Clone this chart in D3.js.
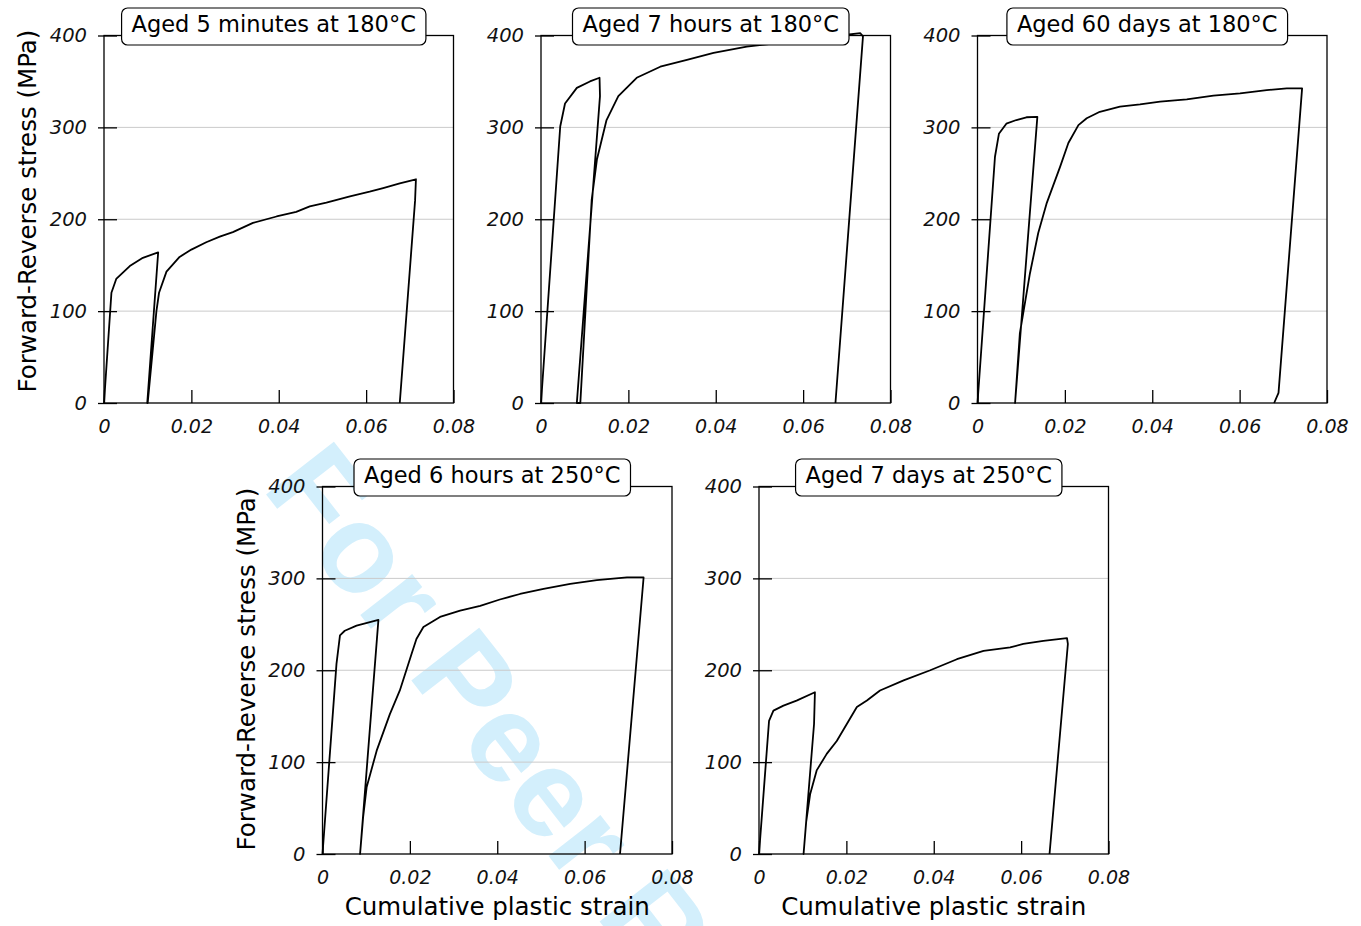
<!DOCTYPE html>
<html>
<head>
<meta charset="utf-8">
<script src="https://cdn.jsdelivr.net/npm/d3@7"></script>
<style>
  body { margin: 0; background: #fff; }
  svg { display: block; }
</style>
</head>
<body>
<div id="chart"></div>
<script>
// tick values shared by every panel
var xTicks = [0, 0.02, 0.04, 0.06, 0.08];
var yTicks = [0, 100, 200, 300, 400];

var titles = [
  "Aged 5 minutes at 180°C",
  "Aged 7 hours at 180°C",
  "Aged 60 days at 180°C",
  "Aged 6 hours at 250°C",
  "Aged 7 days at 250°C"
];

// forward loading -> unload -> reverse loading -> unload
var strain5min = [0, 0.0017, 0.0028, 0.0059, 0.0089, 0.0124, 0.0099, 0.0100, 0.0112, 0.0120, 0.0126, 0.0143, 0.0173, 0.0200, 0.0234, 0.0265, 0.0295, 0.0341, 0.0395, 0.0440, 0.0471, 0.0509, 0.0563, 0.0608, 0.0639, 0.0677, 0.0714, 0.0712, 0.0677];
var stress5min = [0, 120, 135, 149, 158, 164, 0, 0, 60, 100, 120, 143, 159, 167, 175, 181, 186, 196, 203, 208, 214, 218, 225, 230, 234, 239, 243.5, 220, 0];

var strain7h = [0, 0.0044, 0.0055, 0.0082, 0.0112, 0.0134, 0.0135, 0.0082, 0.0090, 0.0116, 0.0128, 0.0150, 0.0177, 0.0219, 0.0273, 0.0334, 0.0395, 0.0471, 0.0548, 0.0601, 0.0632, 0.0685, 0.0731, 0.0737, 0.0674];
var stress7h = [0, 301, 326, 343, 350, 354, 334, 0, 0, 221, 265, 308, 334, 354, 366, 373.5, 381, 388, 392, 393, 397, 400, 402.5, 399, 0];

var strain60d = [0, 0.0040, 0.0049, 0.0066, 0.0089, 0.0112, 0.0137, 0.0086, 0.0097, 0.0120, 0.0139, 0.0158, 0.0189, 0.0208, 0.0231, 0.0250, 0.0280, 0.0326, 0.0372, 0.0418, 0.0479, 0.0540, 0.0601, 0.0662, 0.0708, 0.0743, 0.0689, 0.0679];
var stress60d = [0, 268, 293, 304, 308, 311, 311.5, 0, 76, 141, 185, 217, 257, 283, 302.5, 310, 317, 322.5, 325, 328, 330.5, 334.5, 337, 340.5, 342.5, 342.5, 11, 0];

var strain6h = [0, 0.0032, 0.0040, 0.0051, 0.0078, 0.0128, 0.0086, 0.0093, 0.0101, 0.0124, 0.0154, 0.0177, 0.0204, 0.0215, 0.0231, 0.0269, 0.0315, 0.0361, 0.0406, 0.0452, 0.0506, 0.0567, 0.0628, 0.0697, 0.0735, 0.0681];
var stress6h = [0, 207, 238, 243, 248.6, 254.8, 0, 40, 72.6, 112.5, 152, 178, 218, 234, 247, 258, 265, 270, 277, 283, 288.6, 294, 298, 301, 301, 0];

var strain7d = [0, 0.0023, 0.0033, 0.0056, 0.0086, 0.0128, 0.0126, 0.0102, 0.0108, 0.0117, 0.0132, 0.0155, 0.0178, 0.0201, 0.0224, 0.0247, 0.0277, 0.0331, 0.0392, 0.0453, 0.0514, 0.0575, 0.0605, 0.0651, 0.0705, 0.0707, 0.0665];
var stress7d = [0, 145, 156, 161.5, 167, 176, 141.5, 0, 35, 65, 91, 109, 123, 141.5, 160, 167, 178, 189, 200, 212, 221, 225, 228.6, 232, 235, 228.6, 0];

var panels = [
  {left: 104, top: 35.5, strain: strain5min, stress: stress5min, yLabel: true, xLabel: false, yLabelCy: 211},
  {left: 541, top: 35.5, strain: strain7h, stress: stress7h, yLabel: false, xLabel: false},
  {left: 977.5, top: 35.5, strain: strain60d, stress: stress60d, yLabel: false, xLabel: false},
  {left: 322.5, top: 486.5, strain: strain6h, stress: stress6h, yLabel: true, xLabel: true, yLabelCy: 669},
  {left: 759, top: 486.5, strain: strain7d, stress: stress7d, yLabel: false, xLabel: true}
];

var W = 1361, H = 926;
var width = 349.5, height = 367.5;

var svg = d3.select("#chart")
  .append("svg")
  .attr("width", W)
  .attr("height", H);

// watermark behind everything
svg.append("text")
  .attr("transform", "translate(261,488) rotate(52)")
  .attr("font-family", "Liberation Sans, Arial, sans-serif")
  .attr("font-weight", "bold")
  .attr("font-size", 125)
  .attr("fill", "#d3effc")
  .text("For Peer Review");

var x = d3.scaleLinear().domain([0, 0.08]).range([0, width]);
var y = d3.scaleLinear().domain([0, 400]).range([height, 0]);

var fmt = function(d) { return d === 0 ? "0" : d.toFixed(2); };

var line = d3.line()
  .x(function(d) { return x(d[0]); })
  .y(function(d) { return y(d[1]); });

panels.forEach(function(p, i) {
  var g = svg.append("g")
    .attr("transform", "translate(" + p.left + "," + p.top + ")");

  // grid
  g.append("g")
    .selectAll("line")
    .data(yTicks.filter(function(d) { return d > 0 && d < 400; }))
    .enter().append("line")
    .attr("x1", 0)
    .attr("x2", width)
    .attr("y1", function(d) { return y(d); })
    .attr("y2", function(d) { return y(d); })
    .attr("stroke", "#cacaca")
    .attr("stroke-width", 1);

  // y axis
  var ya = g.append("g")
    .call(d3.axisLeft(y).tickValues(yTicks).tickSizeInner(6).tickSizeOuter(0).tickPadding(11));
  ya.select(".domain").remove();
  ya.selectAll(".tick line").attr("x1", 13).attr("stroke", "#000").attr("stroke-width", 1.3);
  ya.selectAll(".tick text")
    .attr("font-family", "DejaVu Sans, sans-serif")
    .attr("font-style", "italic")
    .attr("font-size", 19.5)
    .attr("fill", "#111");

  // x axis
  var xa = g.append("g")
    .attr("transform", "translate(0," + height + ")")
    .call(d3.axisBottom(x).tickValues(xTicks).tickFormat(fmt).tickSize(0).tickPadding(17));
  xa.select(".domain").remove();
  xa.selectAll(".tick line").attr("y2", -13).attr("stroke", "#000").attr("stroke-width", 1.3);
  xa.selectAll(".tick text")
    .attr("font-family", "DejaVu Sans, sans-serif")
    .attr("font-style", "italic")
    .attr("font-size", 19)
    .attr("fill", "#111");

  // frame
  g.append("rect")
    .attr("width", width)
    .attr("height", height)
    .attr("fill", "none")
    .attr("stroke", "#000")
    .attr("stroke-width", 1.3);

  // curve
  g.append("path")
    .datum(d3.zip(p.strain, p.stress))
    .attr("d", line)
    .attr("fill", "none")
    .attr("stroke", "#000")
    .attr("stroke-width", 1.8)
    .attr("stroke-linejoin", "round");

  // title box
  var tg = g.append("g");
  var tbox = tg.append("rect");
  var tt = tg.append("text")
    .attr("x", width / 2 - 5)
    .attr("y", -3.5)
    .attr("text-anchor", "middle")
    .attr("font-family", "DejaVu Sans, sans-serif")
    .attr("font-size", 22.5)
    .attr("fill", "#000")
    .text(titles[i]);
  var tw = tt.node().getComputedTextLength();
  tbox.attr("x", width / 2 - 5 - tw / 2 - 10)
    .attr("y", -27.5)
    .attr("width", tw + 20)
    .attr("height", 37)
    .attr("rx", 6)
    .attr("fill", "#fff")
    .attr("stroke", "#000")
    .attr("stroke-width", 1.2);

  if (p.yLabel) {
    g.append("text")
      .attr("transform", "translate(-68," + (p.yLabelCy - p.top) + ") rotate(-90)")
      .attr("text-anchor", "middle")
      .attr("font-family", "DejaVu Sans, sans-serif")
      .attr("font-size", 24.5)
      .attr("fill", "#000")
      .text("Forward-Reverse stress (MPa)");
  }
  if (p.xLabel) {
    g.append("text")
      .attr("x", width / 2)
      .attr("y", height + 61)
      .attr("text-anchor", "middle")
      .attr("font-family", "DejaVu Sans, sans-serif")
      .attr("font-size", 24.5)
      .attr("fill", "#000")
      .text("Cumulative plastic strain");
  }
});
</script>
</body>
</html>
